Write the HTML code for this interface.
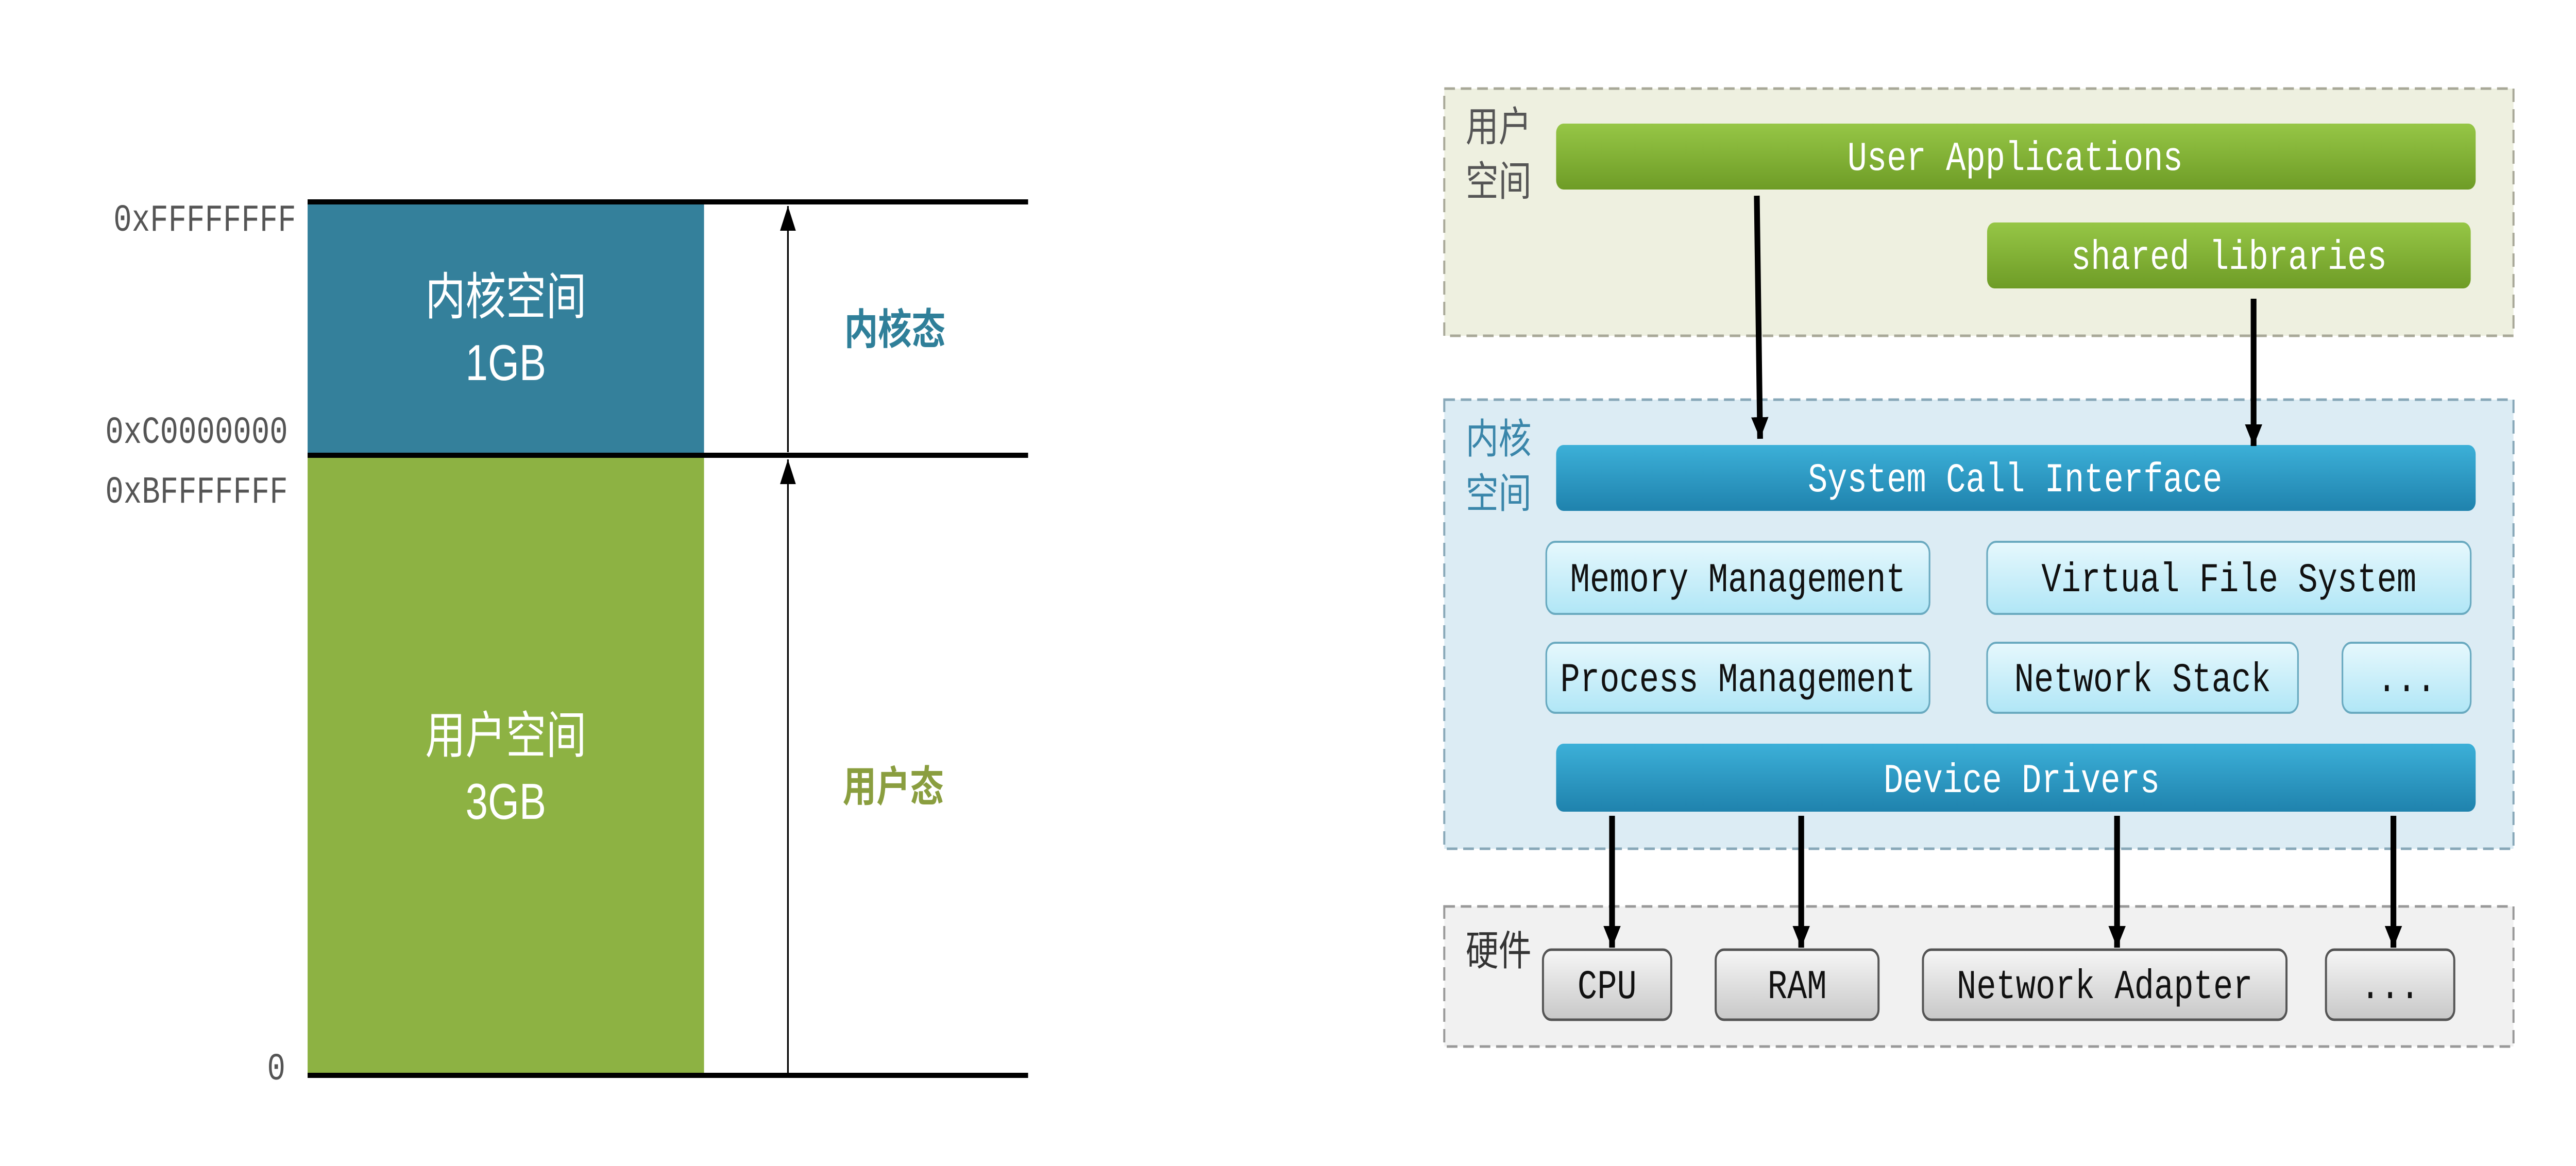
<!DOCTYPE html>
<html><head><meta charset="utf-8"><style>html,body{margin:0;padding:0;background:#fff;overflow:hidden;width:100vw;height:100vh}svg{display:block;width:100vw;height:100vh}</style></head>
<body>
<svg viewBox="0 0 6264 2264" preserveAspectRatio="none" xmlns="http://www.w3.org/2000/svg">
<defs>
<linearGradient id="g" x1="0" y1="0" x2="0" y2="1"><stop offset="0" stop-color="#96c646"/><stop offset="1" stop-color="#6e9c26"/></linearGradient>
<linearGradient id="b" x1="0" y1="0" x2="0" y2="1"><stop offset="0" stop-color="#3cb0d8"/><stop offset="1" stop-color="#1f82ad"/></linearGradient>
<linearGradient id="c" x1="0" y1="0" x2="0" y2="1"><stop offset="0" stop-color="#e6f8fd"/><stop offset="1" stop-color="#b0e6f6"/></linearGradient>
<linearGradient id="h" x1="0" y1="0" x2="0" y2="1"><stop offset="0" stop-color="#f6f6f6"/><stop offset="1" stop-color="#c8c8c8"/></linearGradient>
<marker id="a" viewBox="0 0 10 10" refX="10" refY="5" markerWidth="3" markerHeight="3" orient="auto"><path d="M0,0L10,5L0,10z" fill="#000"/></marker>
<marker id="t" viewBox="0 0 10 10" refX="10" refY="5" markerWidth="12" markerHeight="12" orient="auto"><path d="M0,1L10,5L0,9z" fill="#000"/></marker>
</defs>
<rect x="748" y="392" width="964" height="492" fill="#34809b"/>
<rect x="748" y="884" width="964" height="1204" fill="#8db243"/>
<line x1="748" y1="392" x2="2500" y2="392" stroke="#000" stroke-width="10"/>
<line x1="748" y1="884" x2="2500" y2="884" stroke="#000" stroke-width="10"/>
<line x1="748" y1="2088" x2="2500" y2="2088" stroke="#000" stroke-width="10"/>
<line x1="1916" y1="878" x2="1916" y2="400" stroke="#000" stroke-width="4" marker-end="url(#t)"/>
<line x1="1916" y1="2084" x2="1916" y2="892" stroke="#000" stroke-width="4" marker-end="url(#t)"/>
<g font-family="Liberation Mono, monospace" font-size="74" fill="#555" text-anchor="end">
<text x="720" y="448">0xFFFFFFFF</text>
<text x="700" y="860">0xC0000000</text>
<text x="700" y="976">0xBFFFFFFF</text>
<text x="694" y="2096">0</text>
</g>
<g font-family="Liberation Sans, Noto Sans CJK SC, sans-serif" font-size="98" fill="#fff" text-anchor="middle">
<text x="1230" y="610">内核空间</text>
<text x="1230" y="738">1GB</text>
<text x="1230" y="1462">用户空间</text>
<text x="1230" y="1590">3GB</text>
</g>
<g font-family="Liberation Sans, Noto Sans CJK SC, sans-serif" font-size="82" font-weight="bold" text-anchor="middle">
<text x="2176" y="668" fill="#2f7f99">内核态</text>
<text x="2172" y="1556" fill="#8a9e3f">用户态</text>
</g>
<rect x="3512" y="172" width="2600" height="480" fill="#eef0e0" stroke="#a8a898" stroke-width="5" stroke-dasharray="26 14"/>
<rect x="3512" y="776" width="2600" height="872" fill="#dcecf4" stroke="#88a8b8" stroke-width="5" stroke-dasharray="26 14"/>
<rect x="3512" y="1760" width="2600" height="272" fill="#f1f1f1" stroke="#999" stroke-width="5" stroke-dasharray="26 14"/>
<g font-family="Liberation Sans, Noto Sans CJK SC, sans-serif" font-size="80">
<text x="3564" y="274" fill="#555">用户</text><text x="3564" y="380" fill="#555">空间</text>
<text x="3564" y="880" fill="#3a86aa">内核</text><text x="3564" y="986" fill="#3a86aa">空间</text>
<text x="3564" y="1874" fill="#333">硬件</text>
</g>
<rect x="3784" y="240" width="2236" height="128" rx="18" fill="url(#g)"/>
<rect x="4832" y="432" width="1176" height="128" rx="18" fill="url(#g)"/>
<rect x="3784" y="864" width="2236" height="128" rx="18" fill="url(#b)"/>
<rect x="3784" y="1444" width="2236" height="132" rx="18" fill="url(#b)"/>
<g stroke="#6aaac0" stroke-width="4" fill="url(#c)">
<rect x="3760" y="1052" width="932" height="140" rx="22"/>
<rect x="4832" y="1052" width="1176" height="140" rx="22"/>
<rect x="3760" y="1248" width="932" height="136" rx="22"/>
<rect x="4832" y="1248" width="756" height="136" rx="22"/>
<rect x="5696" y="1248" width="312" height="136" rx="22"/>
</g>
<g stroke="#555" stroke-width="5" fill="url(#h)">
<rect x="3752" y="1844" width="312" height="136" rx="20"/>
<rect x="4172" y="1844" width="396" height="136" rx="20"/>
<rect x="4676" y="1844" width="884" height="136" rx="20"/>
<rect x="5656" y="1844" width="312" height="136" rx="20"/>
</g>
<g font-family="Liberation Mono, monospace" font-size="80" text-anchor="middle">
<g fill="#fff">
<text x="4900" y="330">User Applications</text>
<text x="5420" y="522">shared libraries</text>
<text x="4900" y="954">System Call Interface</text>
<text x="4916" y="1538">Device Drivers</text>
</g>
<g fill="#111">
<text x="4226" y="1148">Memory Management</text>
<text x="5420" y="1148">Virtual File System</text>
<text x="4226" y="1342">Process Management</text>
<text x="5210" y="1342">Network Stack</text>
<text x="5852" y="1342">...</text>
<text x="3908" y="1938">CPU</text>
<text x="4370" y="1938">RAM</text>
<text x="5118" y="1938">Network Adapter</text>
<text x="5812" y="1938">...</text>
</g>
</g>
<g stroke="#000" stroke-width="14" marker-end="url(#a)">
<line x1="4272" y1="380" x2="4280" y2="852"/>
<line x1="5480" y1="580" x2="5480" y2="866"/>
<line x1="3920" y1="1584" x2="3920" y2="1840"/>
<line x1="4380" y1="1584" x2="4380" y2="1840"/>
<line x1="5148" y1="1584" x2="5148" y2="1840"/>
<line x1="5820" y1="1584" x2="5820" y2="1840"/>
</g>
</svg>
</body></html>
